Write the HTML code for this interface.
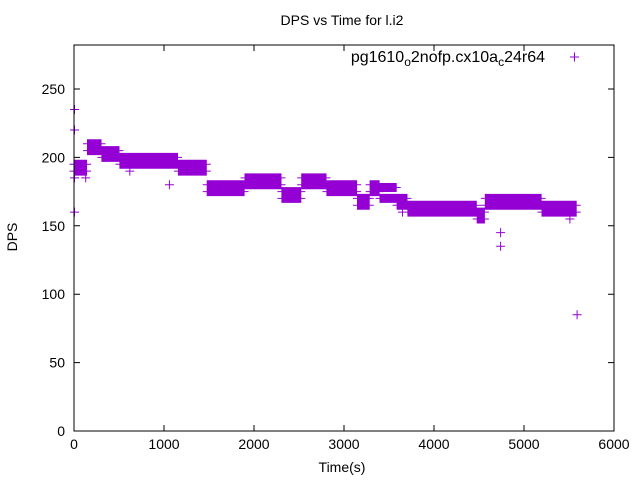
<!DOCTYPE html>
<html><head><meta charset="utf-8"><style>
body{margin:0;background:#fff;}
svg text{font-family:"Liberation Sans",sans-serif;font-size:14px;fill:#000;}
</style></head><body>
<svg id="chart" width="640" height="480" viewBox="0 0 640 480" xmlns="http://www.w3.org/2000/svg">
<rect width="640" height="480" fill="#fff"/>
<text x="342" y="25" text-anchor="middle">DPS vs Time for l.i2</text>
<text transform="translate(17,237) rotate(-90)" text-anchor="middle">DPS</text>
<text x="342" y="472" text-anchor="middle">Time(s)</text>
<g id="axes"></g>
<g id="marks"></g>
<rect x="74" y="45" width="540" height="386" fill="none" stroke="#000" stroke-width="1"/>
<g>
<text x="545" y="62" text-anchor="end" style="font-size:16px">pg1610<tspan font-size="12" dy="4">o</tspan><tspan dy="-4">2nofp.cx10a</tspan><tspan font-size="12" dy="4">c</tspan><tspan dy="-4">24r64</tspan></text>
<path d="M570 57h9M574.5 52.5v9" stroke="#9400d3" stroke-width="1"/>
</g>
</svg>
<script>
const xTicks=[0,1000,2000,3000,4000,5000,6000];
const yTicks=[0,50,100,150,200,250];
const segStart=[0,150,310,510,920,1160,1480,1900,2310,2530,2810,3150,3290,3400,3590,3710,4480,4570,5120,5200];
const segEnd=[150,310,510,920,1160,1480,1900,2310,2530,2810,3150,3290,3400,3590,3710,4480,4570,5120,5200,5590];
const segLo=[190,205,200,195,195,190,175,180,170,180,175,165,175,170,165,160,155,165,165,160];
const segHi=[195,210,205,200,200,195,180,185,175,185,180,170,180,178,170,165,160,170,170,165];
const outT=[5,5,5,5,620,1060,4740,4740,5590,3650,2660,130,5510];
const outV=[235,220,160,185,190,180,145,135,85,160,180,185,155];
const X=t=>74+t*0.09, Y=v=>431-v*1.368;
const NS="http://www.w3.org/2000/svg";
const axes=document.getElementById('axes'), marks=document.getElementById('marks');
xTicks.forEach(t=>{
  const p=document.createElementNS(NS,'path');
  p.setAttribute('d',`M${X(t)} 431v-6M${X(t)} 45v6`);p.setAttribute('stroke','#000');
  
  
  axes.appendChild(p);
  const tx=document.createElementNS(NS,'text');
  tx.setAttribute('x',X(t));tx.setAttribute('y',449);tx.setAttribute('text-anchor','middle');tx.textContent=t;
  
  
  axes.appendChild(tx);
});
yTicks.forEach(v=>{
  const p=document.createElementNS(NS,'path');
  p.setAttribute('d',`M74 ${Y(v)}h6M614 ${Y(v)}h-6`);p.setAttribute('stroke','#000');
  
  
  axes.appendChild(p);
  const tx=document.createElementNS(NS,'text');
  tx.setAttribute('x',65);tx.setAttribute('y',Y(v)+5);tx.setAttribute('text-anchor','end');tx.textContent=v;
  
  
  axes.appendChild(tx);
});
let d='';
const plus=(t,v)=>{d+=`M${(X(t)-4.5).toFixed(1)} ${Y(v).toFixed(1)}h9M${X(t).toFixed(1)} ${(Y(v)-4.5).toFixed(1)}v9`;};
for(let i=0;i<segStart.length;i++){
  for(let t=segStart[i];t<segEnd[i];t+=10){plus(t,segLo[i]);plus(t,segHi[i]);}
}
for(let i=0;i<outT.length;i++)plus(outT[i],outV[i]);
const pp=document.createElementNS(NS,'path');
pp.setAttribute('d',d);pp.setAttribute('stroke','#9400d3');pp.setAttribute('stroke-width','1');pp.setAttribute('fill','none');


marks.appendChild(pp);
</script>
</body></html>
